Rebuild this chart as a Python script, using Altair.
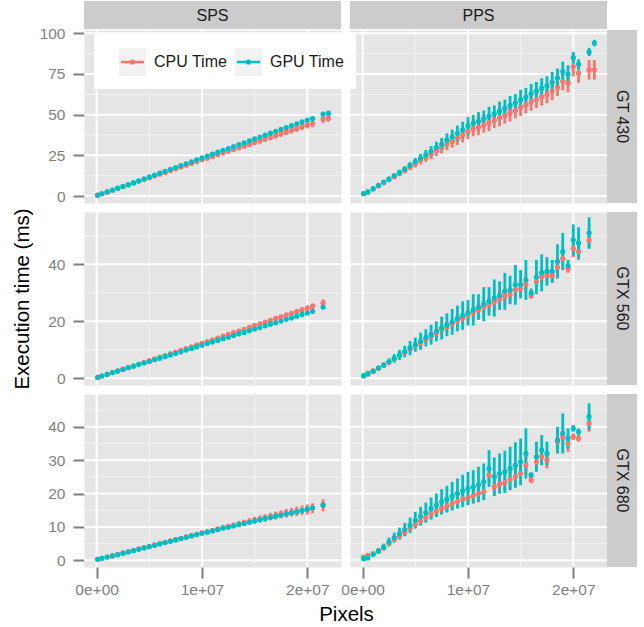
import altair as alt
import pandas as pd

FONT = "Liberation Sans"
MODELS = ["GT 430", "GTX 560", "GTX 680"]
METHODS = ["SPS", "PPS"]
SERIES = ["CPU Time", "GPU Time"]
COLORS = ["#F8766D", "#00BFC4"]

# image size in millions of pixels
PIXELS_M = [
    0.1, 0.5, 1.0, 1.5, 2.0, 2.5, 3.0, 3.5, 4.0, 4.5, 5.0,
    5.5, 6.0, 6.5, 7.0, 7.5, 8.0, 8.5, 9.0, 9.5, 10.0, 10.5,
    11.0, 11.5, 12.0, 12.5, 13.0, 13.5, 14.0, 14.5, 15.0, 15.5, 16.0,
    16.5, 17.0, 17.5, 18.0, 18.5, 19.0, 19.5, 20.0, 20.5, 21.5, 22.0,
]

# ---------------- GT 430 ----------------
GT430_SPS_CPU = [
    0.5, 1.4, 2.5, 3.5, 4.6, 5.7, 6.8, 7.9, 9.0, 10.1, 11.2,
    12.3, 13.4, 14.5, 15.6, 16.7, 17.8, 18.9, 20.0, 21.1, 22.2, 23.2,
    24.3, 25.4, 26.5, 27.5, 28.6, 29.7, 30.8, 31.8, 32.9, 34.0, 35.1,
    36.1, 37.2, 38.3, 39.4, 40.4, 41.5, 42.6, 43.7, 44.5, 47.2, 47.8,
]
GT430_SPS_CPU_ERR = [
    0.2, 0.3, 0.3, 0.4, 0.4, 0.5, 0.5, 0.6, 0.6, 0.7, 0.7,
    0.8, 0.8, 0.9, 0.9, 1.0, 1.0, 1.1, 1.1, 1.2, 1.2, 1.3,
    1.3, 1.4, 1.4, 1.5, 1.5, 1.6, 1.6, 1.7, 1.7, 1.8, 1.8,
    1.9, 1.9, 2.0, 2.0, 2.0, 2.1, 2.1, 2.2, 2.2, 2.3, 2.3,
]
GT430_SPS_GPU = [
    0.5, 1.4, 2.5, 3.6, 4.8, 5.9, 7.0, 8.2, 9.3, 10.5, 11.7,
    12.8, 14.0, 15.2, 16.4, 17.5, 18.7, 19.8, 21.0, 22.2, 23.4, 24.5,
    25.7, 26.9, 28.1, 29.2, 30.4, 31.6, 32.7, 33.9, 35.1, 36.2, 37.4,
    38.6, 39.8, 40.9, 42.1, 43.2, 44.4, 45.5, 46.7, 47.6, 50.3, 50.9,
]
GT430_SPS_GPU_ERR = [
    0.2, 0.2, 0.3, 0.3, 0.3, 0.3, 0.4, 0.4, 0.4, 0.4, 0.4,
    0.5, 0.5, 0.5, 0.5, 0.5, 0.5, 0.6, 0.6, 0.6, 0.6, 0.6,
    0.6, 0.7, 0.7, 0.7, 0.7, 0.7, 0.7, 0.8, 0.8, 0.8, 0.8,
    0.8, 0.8, 0.9, 0.9, 0.9, 0.9, 0.9, 1.0, 1.0, 1.0, 1.0,
]
GT430_PPS_CPU = [
    1.5, 2.4, 4.3, 6.2, 8.1, 10.0, 11.9, 13.8, 15.7, 17.8, 19.8,
    21.8, 23.7, 25.7, 27.8, 29.6, 31.9, 33.7, 35.6, 37.5, 39.7, 41.3,
    42.4, 43.7, 45.1, 46.5, 48.1, 49.5, 51.2, 52.7, 54.6, 56.0, 57.9,
    59.3, 61.0, 62.4, 64.5, 66.8, 70.5, 69.5, 79.5, 75.5, 77.5, 77.5,
]
GT430_PPS_CPU_ERR = [
    0.3, 0.4, 0.6, 0.8, 1.0, 1.2, 1.4, 1.6, 1.8, 2.0, 2.3,
    2.5, 2.8, 3.0, 3.3, 3.5, 3.8, 4.0, 4.3, 4.5, 4.8, 4.6,
    5.0, 4.8, 5.2, 4.8, 5.2, 5.0, 5.4, 5.0, 5.4, 5.2, 5.5,
    5.2, 5.6, 5.4, 5.6, 5.4, 5.6, 5.8, 6.0, 6.0, 6.0, 6.0,
]
GT430_PPS_GPU = [
    1.5, 2.5, 4.5, 6.5, 8.5, 10.5, 12.5, 14.5, 16.5, 18.8, 21.0,
    23.2, 25.3, 27.5, 29.8, 31.8, 34.3, 36.4, 38.5, 40.6, 43.0, 44.8,
    46.0, 47.4, 49.0, 50.5, 52.2, 53.8, 55.5, 57.2, 59.2, 60.8, 62.8,
    64.4, 66.2, 67.8, 70.0, 72.5, 76.5, 74.8, 85.0, 81.0, 88.5, 94.0,
]
GT430_PPS_GPU_ERR = [
    0.3, 0.4, 0.6, 0.8, 1.0, 1.2, 1.4, 1.6, 1.8, 2.0, 2.4,
    2.6, 3.0, 3.2, 3.6, 3.8, 4.2, 4.4, 4.8, 5.0, 5.4, 5.0,
    5.6, 5.2, 5.8, 5.2, 5.8, 5.4, 6.0, 5.4, 6.0, 5.6, 6.0,
    5.6, 6.2, 5.8, 6.2, 5.8, 6.0, 5.5, 3.5, 3.0, 2.5, 2.0,
]

# ---------------- GTX 560 ----------------
GTX560_SPS_CPU = [
    0.3, 0.8, 1.4, 2.0, 2.6, 3.2, 3.8, 4.4, 5.0, 5.6, 6.2,
    6.8, 7.4, 8.0, 8.6, 9.2, 9.8, 10.4, 11.0, 11.7, 12.3, 12.9,
    13.5, 14.1, 14.8, 15.4, 16.0, 16.6, 17.2, 17.9, 18.5, 19.1, 19.7,
    20.3, 21.0, 21.6, 22.2, 22.8, 23.4, 24.0, 24.6, 25.3, 26.5, None,
]
GTX560_SPS_CPU_ERR = [
    0.1, 0.1, 0.15, 0.2, 0.2, 0.2, 0.25, 0.25, 0.3, 0.3, 0.3,
    0.35, 0.35, 0.4, 0.4, 0.4, 0.45, 0.45, 0.5, 0.5, 0.5, 0.55,
    0.55, 0.6, 0.6, 0.6, 0.65, 0.65, 0.7, 0.7, 0.7, 0.75, 0.75,
    0.8, 0.8, 0.8, 0.85, 0.85, 0.9, 0.9, 0.9, 0.95, 1.2, None,
]
GTX560_SPS_GPU = [
    0.3, 0.8, 1.4, 2.0, 2.5, 3.1, 3.7, 4.2, 4.8, 5.4, 5.9,
    6.5, 7.0, 7.6, 8.2, 8.7, 9.3, 9.9, 10.5, 11.0, 11.6, 12.2,
    12.7, 13.3, 13.9, 14.4, 15.0, 15.6, 16.1, 16.7, 17.3, 17.8, 18.4,
    19.0, 19.5, 20.1, 20.7, 21.2, 21.8, 22.4, 22.9, 23.5, 25.0, None,
]
GTX560_SPS_GPU_ERR = [
    0.1, 0.1, 0.1, 0.1, 0.15, 0.15, 0.15, 0.15, 0.2, 0.2, 0.2,
    0.2, 0.25, 0.25, 0.25, 0.25, 0.3, 0.3, 0.3, 0.3, 0.35, 0.35,
    0.35, 0.35, 0.4, 0.4, 0.4, 0.4, 0.45, 0.45, 0.45, 0.45, 0.5,
    0.5, 0.5, 0.5, 0.55, 0.55, 0.55, 0.55, 0.6, 0.6, 0.8, None,
]
GTX560_PPS_CPU = [
    1.0, 1.8, 2.6, 3.6, 4.6, 5.7, 6.8, 8.0, 9.1, 10.3, 11.4,
    12.5, 13.7, 14.8, 15.9, 17.0, 18.0, 19.1, 20.1, 21.1, 22.0, 23.0,
    24.0, 24.9, 25.8, 26.8, 27.6, 28.8, 29.5, 31.0, 31.5, 33.0, 29.0,
    34.0, 35.5, 36.0, 36.0, 39.0, 42.0, 38.5, 45.5, 44.5, 48.5, None,
]
GTX560_PPS_CPU_ERR = [
    0.3, 0.3, 0.4, 0.5, 0.6, 0.7, 0.8, 0.9, 1.0, 1.1, 1.2,
    1.3, 1.4, 1.5, 1.6, 1.7, 1.8, 1.9, 2.0, 2.1, 2.2, 2.3,
    2.4, 2.5, 2.6, 2.7, 2.8, 2.9, 3.0, 3.0, 3.0, 3.0, 1.0,
    2.5, 2.5, 2.5, 2.5, 3.0, 3.5, 1.5, 3.0, 3.0, 3.0, None,
]
GTX560_PPS_GPU = [
    0.8, 1.5, 2.5, 3.6, 4.6, 5.8, 7.0, 8.2, 9.4, 10.6, 11.8,
    13.0, 14.2, 15.3, 16.5, 17.6, 18.8, 19.8, 21.0, 22.0, 23.0, 24.0,
    25.0, 26.0, 27.0, 28.2, 29.0, 30.5, 31.0, 32.8, 33.0, 34.5, 30.0,
    35.5, 37.0, 37.5, 37.5, 41.0, 44.5, 39.5, 48.5, 47.5, 51.0, None,
]
GTX560_PPS_GPU_ERR = [
    0.5, 0.5, 0.7, 0.8, 1.0, 1.2, 1.5, 1.8, 2.0, 2.5, 2.5,
    3.0, 3.0, 3.5, 3.5, 4.0, 4.0, 4.5, 4.5, 5.0, 4.5, 5.5,
    4.5, 6.0, 5.0, 6.5, 5.0, 6.5, 5.0, 7.0, 5.0, 7.0, 1.5,
    6.0, 6.5, 5.0, 4.0, 6.0, 6.5, 2.0, 5.5, 5.5, 5.5, None,
]

# ---------------- GTX 680 ----------------
GTX680_SPS_CPU = [
    0.3, 0.6, 1.0, 1.4, 1.8, 2.2, 2.6, 3.0, 3.4, 3.8, 4.2,
    4.6, 5.0, 5.4, 5.8, 6.2, 6.6, 7.0, 7.4, 7.8, 8.2, 8.6,
    9.0, 9.4, 9.8, 10.2, 10.5, 10.9, 11.3, 11.7, 12.0, 12.4, 12.7,
    13.1, 13.4, 13.8, 14.1, 14.4, 14.7, 15.0, 15.2, 15.6, 16.5, None,
]
GTX680_SPS_CPU_ERR = [
    0.1, 0.1, 0.15, 0.15, 0.2, 0.2, 0.25, 0.25, 0.3, 0.3, 0.35,
    0.35, 0.4, 0.4, 0.45, 0.45, 0.5, 0.5, 0.55, 0.55, 0.6, 0.6,
    0.65, 0.65, 0.7, 0.7, 0.8, 0.8, 0.9, 0.9, 1.0, 1.0, 1.1,
    1.1, 1.2, 1.2, 1.3, 1.3, 1.4, 1.4, 1.5, 1.5, 1.8, None,
]
GTX680_SPS_GPU = [
    0.3, 0.6, 1.0, 1.3, 1.7, 2.1, 2.5, 2.9, 3.3, 3.7, 4.1,
    4.5, 4.9, 5.3, 5.7, 6.1, 6.5, 6.9, 7.3, 7.7, 8.1, 8.4,
    8.8, 9.2, 9.6, 9.9, 10.3, 10.7, 11.0, 11.4, 11.8, 12.1, 12.5,
    12.8, 13.2, 13.5, 13.9, 14.2, 14.5, 14.9, 15.3, 15.7, 16.6, None,
]
GTX680_SPS_GPU_ERR = [
    0.05, 0.05, 0.05, 0.1, 0.1, 0.1, 0.1, 0.1, 0.15, 0.15, 0.15,
    0.15, 0.15, 0.2, 0.2, 0.2, 0.2, 0.2, 0.25, 0.25, 0.25, 0.25,
    0.25, 0.3, 0.3, 0.3, 0.3, 0.3, 0.35, 0.35, 0.35, 0.35, 0.35,
    0.4, 0.4, 0.4, 0.4, 0.4, 0.45, 0.45, 0.45, 0.45, 0.6, None,
]
GTX680_PPS_CPU = [
    1.0, 1.5, 2.0, 2.7, 3.7, 5.0, 6.2, 7.3, 8.4, 9.6, 10.8,
    11.8, 12.8, 13.8, 14.7, 15.5, 16.2, 17.0, 17.6, 18.3, 18.8, 19.3,
    20.0, 20.6, 25.5, 22.0, 22.8, 23.3, 24.2, 25.0, 26.0, 28.5, 24.0,
    29.5, 31.0, 30.0, None, 35.5, 37.0, 35.0, 37.0, 36.5, 41.0, None,
]
GTX680_PPS_CPU_ERR = [
    0.2, 0.2, 0.3, 0.4, 0.5, 0.6, 0.7, 0.8, 0.9, 1.0, 1.1,
    1.2, 1.3, 1.4, 1.5, 1.6, 1.7, 1.8, 1.9, 2.0, 2.1, 2.2,
    2.3, 2.4, 2.5, 2.6, 2.7, 2.8, 2.9, 3.0, 3.0, 3.0, 0.8,
    2.5, 2.5, 2.5, None, 3.5, 3.0, 2.5, 1.0, 1.0, 2.5, None,
]
GTX680_PPS_GPU = [
    0.5, 0.7, 1.8, 2.8, 4.0, 5.5, 6.8, 8.0, 9.2, 10.5, 12.0,
    13.2, 14.3, 15.5, 16.5, 17.5, 18.3, 19.2, 20.0, 20.8, 21.5, 22.0,
    22.7, 23.5, 27.5, 25.0, 26.0, 26.5, 27.5, 28.5, 29.5, 32.0, 25.5,
    31.0, 33.0, 32.0, None, 36.0, 38.0, 36.5, 39.5, 38.5, 43.0, None,
]
GTX680_PPS_GPU_ERR = [
    0.3, 0.4, 0.5, 0.8, 1.0, 1.3, 1.5, 1.8, 2.0, 2.3, 2.5,
    2.8, 3.0, 3.3, 3.5, 3.8, 4.0, 4.3, 4.5, 4.8, 5.0, 5.0,
    5.3, 5.5, 5.5, 5.8, 6.0, 6.3, 6.5, 6.8, 7.0, 7.5, 0.8,
    4.5, 4.5, 3.5, None, 4.0, 6.0, 3.0, 1.0, 1.0, 4.0, None,
]

SERIES_DATA = {
    ("GT 430", "SPS", "CPU Time"): (GT430_SPS_CPU, GT430_SPS_CPU_ERR),
    ("GT 430", "SPS", "GPU Time"): (GT430_SPS_GPU, GT430_SPS_GPU_ERR),
    ("GT 430", "PPS", "CPU Time"): (GT430_PPS_CPU, GT430_PPS_CPU_ERR),
    ("GT 430", "PPS", "GPU Time"): (GT430_PPS_GPU, GT430_PPS_GPU_ERR),
    ("GTX 560", "SPS", "CPU Time"): (GTX560_SPS_CPU, GTX560_SPS_CPU_ERR),
    ("GTX 560", "SPS", "GPU Time"): (GTX560_SPS_GPU, GTX560_SPS_GPU_ERR),
    ("GTX 560", "PPS", "CPU Time"): (GTX560_PPS_CPU, GTX560_PPS_CPU_ERR),
    ("GTX 560", "PPS", "GPU Time"): (GTX560_PPS_GPU, GTX560_PPS_GPU_ERR),
    ("GTX 680", "SPS", "CPU Time"): (GTX680_SPS_CPU, GTX680_SPS_CPU_ERR),
    ("GTX 680", "SPS", "GPU Time"): (GTX680_SPS_GPU, GTX680_SPS_GPU_ERR),
    ("GTX 680", "PPS", "CPU Time"): (GTX680_PPS_CPU, GTX680_PPS_CPU_ERR),
    ("GTX 680", "PPS", "GPU Time"): (GTX680_PPS_GPU, GTX680_PPS_GPU_ERR),
}

X_DOMAIN = [-1.2e6, 2.32e7]
X_MAJOR = [0, 10000000, 20000000]
X_MINOR = [5000000, 15000000]
X_TICK_LABELS = ["0e+00", "1e+07", "2e+07"]
Y_DOMAIN = {"GT 430": [-4.3, 102.0], "GTX 560": [-2.35, 58.35], "GTX 680": [-2.0, 49.8]}
Y_MAJOR = {"GT 430": [0, 25, 50, 75, 100], "GTX 560": [0, 20, 40], "GTX 680": [0, 10, 20, 30, 40]}
Y_MINOR = {"GT 430": [12.5, 37.5, 62.5, 87.5], "GTX 560": [10, 30, 50], "GTX 680": [5, 15, 25, 35, 45]}

rows = []
for (model, method, series), (means, errs) in SERIES_DATA.items():
    for xm, m, e in zip(PIXELS_M, means, errs):
        if m is None:
            continue
        rows.append(dict(model=model, method=method, series=series,
                         x=xm * 1e6, y=m, lo=m - e, hi=m + e))
df = pd.DataFrame(rows)
df["order"] = df["series"].map({s: i for i, s in enumerate(SERIES)})
df = df.sort_values(["model", "method", "order", "x"]).reset_index(drop=True)

W, H = 257, 173
STRIP = "#CCCCCC"
PT_SIZE = 27
BAR_W = 2.8
label_expr = "".join(
    f"datum.value == {v} ? '{lab}' : " for v, lab in zip(X_MAJOR, X_TICK_LABELS)
) + "''"

color_enc = alt.Color("series:N", scale=alt.Scale(domain=SERIES, range=COLORS), legend=None)


def panel(r, c):
    model, method = MODELS[r], METHODS[c]
    xs = alt.Scale(domain=X_DOMAIN, nice=False, zero=False)
    ys = alt.Scale(domain=Y_DOMAIN[model], nice=False, zero=False)
    if r == 2:
        if c == 0:
            xax = alt.Axis(values=X_MAJOR, labelExpr=label_expr, title="Pixels",
                           titleX=262, titleY=53, titleBaseline="alphabetic",
                           titleAlign="center")
        else:
            xax = alt.Axis(values=X_MAJOR, labelExpr=label_expr, title=None)
    else:
        xax = None
    if c == 0:
        if r == 1:
            yax = alt.Axis(values=Y_MAJOR[model], title="Execution time (ms)",
                           titleAngle=270, titleX=-61.5, titleY=H / 2,
                           titleBaseline="middle", titleAlign="center")
        else:
            yax = alt.Axis(values=Y_MAJOR[model], title=None)
    else:
        yax = None

    def X(f):
        return alt.X(f, type="quantitative", scale=xs, axis=xax)

    def Y(f):
        return alt.Y(f, type="quantitative", scale=ys, axis=yax)

    layers = [
        alt.Chart(pd.DataFrame({"x": X_MINOR})).mark_rule(color="#F2F2F2", strokeWidth=1).encode(x=X("x")),
        alt.Chart(pd.DataFrame({"y": Y_MINOR[model]})).mark_rule(color="#F2F2F2", strokeWidth=1).encode(y=Y("y")),
        alt.Chart(pd.DataFrame({"x": X_MAJOR})).mark_rule(color="white", strokeWidth=2).encode(x=X("x")),
        alt.Chart(pd.DataFrame({"y": Y_MAJOR[model]})).mark_rule(color="white", strokeWidth=2).encode(y=Y("y")),
    ]
    sub = df[(df.model == model) & (df.method == method)]
    layers.append(alt.Chart(sub).mark_rule(strokeWidth=BAR_W).encode(
        x=X("x"), y=Y("lo"), y2=alt.Y2("hi"), color=color_enc))
    layers.append(alt.Chart(sub).mark_circle(size=PT_SIZE, opacity=1).encode(
        x=X("x"), y=Y("y"), color=color_enc))

    if r == 0:
        one = pd.DataFrame({"t": [method]})
        layers.append(alt.Chart(one).mark_rect(color=STRIP).encode(
            x=alt.value(0), x2=alt.value(W), y=alt.value(-29), y2=alt.value(-1)))
        layers.append(alt.Chart(one).mark_text(font=FONT, fontSize=16, color="#1A1A1A").encode(
            text="t:N", x=alt.value(W / 2), y=alt.value(-14.5)))
    if c == 1:
        one = pd.DataFrame({"t": [model]})
        layers.append(alt.Chart(one).mark_rect(color=STRIP).encode(
            x=alt.value(W), x2=alt.value(W + 30), y=alt.value(0), y2=alt.value(H)))
        layers.append(alt.Chart(one).mark_text(font=FONT, fontSize=16, color="#1A1A1A", angle=90).encode(
            text="t:N", x=alt.value(W + 15), y=alt.value(H / 2)))
    if r == 1 and c == 0:
        # invisible anchor fixing the left edge of the drawing
        layers.append(alt.Chart(pd.DataFrame({"t": [0]})).mark_rect(opacity=0).encode(
            x=alt.value(-83), x2=alt.value(-80), y=alt.value(0), y2=alt.value(1)))
    if r == 0 and c == 1:
        # legend drawn on top, overlapping the SPS panel (origin at this panel)
        lg = pd.DataFrame({"series": SERIES})
        layers.append(alt.Chart(lg.head(1)).mark_rect(color="white").encode(
            x=alt.value(-256), x2=alt.value(6), y=alt.value(4), y2=alt.value(59)))
        key_x = [-231, -115]
        for i, s in enumerate(SERIES):
            d = lg[lg.series == s]
            kx = key_x[i]
            layers.append(alt.Chart(d).mark_rect(color="#F2F2F2").encode(
                x=alt.value(kx), x2=alt.value(kx + 27), y=alt.value(18), y2=alt.value(46)))
            layers.append(alt.Chart(d).mark_rule(strokeWidth=2.5).encode(
                x=alt.value(kx + 2), x2=alt.value(kx + 25), y=alt.value(32), color=color_enc))
            layers.append(alt.Chart(d).mark_circle(size=PT_SIZE, opacity=1).encode(
                x=alt.value(kx + 13.5), y=alt.value(32), color=color_enc))
            layers.append(alt.Chart(d).mark_text(font=FONT, fontSize=16, color="#1A1A1A",
                                                 align="left").encode(
                text="series:N", x=alt.value(kx + 35), y=alt.value(32)))

    return alt.layer(*layers).properties(width=W, height=H)


panels = [panel(r, c) for r in range(3) for c in range(2)]

chart = alt.concat(*panels, columns=2, spacing=9, bounds="flush").properties(
    padding=0, background="white"
).configure_view(
    fill="#E5E5E5", stroke="transparent"
).configure_axis(
    grid=False, domain=False, tickColor="#7F7F7F", tickWidth=2, tickSize=11,
    labelColor="#7F7F7F", labelFont=FONT, labelFontSize=15.5,
    titleFont=FONT, titleFontSize=20.5, titleColor="black", titleFontWeight="normal",
    labelFlush=False, labelBound=False
).configure_axisX(
    labelPadding=4
).configure_axisY(
    labelPadding=8
)

chart.save("out.html", embed_options={"renderer": "svg", "actions": False})
